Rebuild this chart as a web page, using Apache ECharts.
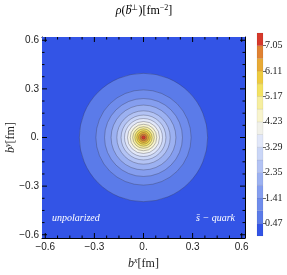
<!DOCTYPE html>
<html><head><meta charset="utf-8">
<script src="https://cdn.jsdelivr.net/npm/echarts@6/dist/echarts.min.js"></script>
<style>html,body{margin:0;padding:0;background:#fff}#c{width:287px;height:275px}</style>
</head><body><div id="c"></div>
<script>
// contour levels (fm^-2) and the radius (fm) at which each contour sits
const contourLevels = [0.47, 0.94, 1.41, 1.88, 2.35, 2.82, 3.29, 3.76, 4.23, 4.70, 5.17, 5.64, 6.11, 6.58, 7.05];
const contourRadii  = [0.392, 0.291, 0.238, 0.198, 0.163, 0.137, 0.116, 0.098, 0.081, 0.066, 0.053, 0.041, 0.030, 0.020, 0.011];
// colour bands: 0–0.47, 0.47–0.94, ... 7.05–7.52
const bandEdges = [0, 0.47, 0.94, 1.41, 1.88, 2.35, 2.82, 3.29, 3.76, 4.23, 4.70, 5.17, 5.64, 6.11, 6.58, 7.05, 7.52];
const bandColors = ['#3354e6', '#5b7be9', '#6f8cec', '#859eef', '#9cb1f1', '#b3c3f4', '#cad6f7', '#e1e7f9',
                    '#f1f1ea', '#f8f4cd', '#f6ee9f', '#f3e262', '#eecb40', '#e8aa36', '#e08233', '#d6392b'];
const colorbarTicks = [0.47, 1.41, 2.35, 3.29, 4.23, 5.17, 6.11, 7.05];
const axisMajor = [-0.6, -0.3, 0, 0.3, 0.6];
const axisMajorLabels = ['\u22120.6', '\u22120.3', '0.', '0.3', '0.6'];
const axisMinor = [-0.525, -0.45, -0.375, -0.225, -0.15, -0.075, 0.075, 0.15, 0.225, 0.375, 0.45, 0.525];

const chart = echarts.init(document.getElementById('c'), null, {renderer: 'canvas'});
const SERIF = 'Liberation Serif';
const SANS = 'Liberation Sans';
const AX = {min: -0.62, max: 0.62};
function lbl(v) { const i = axisMajor.findIndex(a => Math.abs(a - v) < 1e-6); return i >= 0 ? axisMajorLabels[i] : ''; }
const richStyles = {
  i: {fontFamily: SERIF, fontStyle: 'italic', fontWeight: 'normal', fontSize: 12, color: '#222'},
  s: {fontFamily: SERIF, fontStyle: 'italic', fontWeight: 'normal', fontSize: 8, color: '#222', padding: [0, 0, 6, 0]},
  t: {fontFamily: SERIF, fontWeight: 'normal', fontSize: 8, color: '#222', padding: [0, 0, 6, 0]},
  n: {fontFamily: SERIF, fontWeight: 'normal', fontSize: 12, color: '#222'}
};

// measure title pieces so the vector arrow can sit over the "b"
const mctx = document.createElement('canvas').getContext('2d');
function tw(txt, font) { mctx.font = font; return mctx.measureText(txt).width; }
const wRho = tw('\u03c1', 'italic 12px "Liberation Serif"');
const wPar = tw('(', '12px "Liberation Serif"');
const wB = tw('b', 'italic 12px "Liberation Serif"');
const wPerp = tw('\u22a5', '8px "Liberation Serif"');
const wMid = tw(')[fm', '12px "Liberation Serif"');
const wExp = tw('\u22122', '8px "Liberation Serif"');
const wEnd = tw(']', '12px "Liberation Serif"');
const titleW = wRho + wPar + wB + wPerp + wMid + wExp + wEnd;
const titleX0 = 144 - titleW / 2;
const arrowX = titleX0 + wRho + wPar + wB / 2 + 1;

function mkAxis(dim, pos, withLabel, name) {
  const a = {
    type: 'value', gridIndex: 0, min: AX.min, max: AX.max, position: pos,
    axisLine: {show: true, onZero: false, lineStyle: {color: '#000', width: 1}}, splitLine: {show: false},
    axisTick: {show: false},
    axisLabel: withLabel ? {show: true, customValues: axisMajor, formatter: lbl, fontFamily: SANS, fontSize: 10, color: '#222', margin: dim === 'x' ? 4 : 3}
                         : {show: false}
  };
  if (name) {
    a.name = name.text; a.nameLocation = 'middle'; a.nameGap = name.gap; a.nameMoveOverlap = false;
    a.nameTextStyle = {fontFamily: SERIF, fontSize: 12, color: '#222', rich: richStyles};
  }
  return a;
}

// frame tick marks: [value, isMajor]
const tickData = axisMajor.map(v => [v, 1]).concat(axisMinor.map(v => [v, 0]));
function tickSeries(horizontal) {
  return {
    type: 'custom', xAxisIndex: 0, yAxisIndex: 0, z: 6, clip: false, silent: true,
    encode: horizontal ? {x: 0} : {y: 0},
    data: tickData,
    renderItem: function (params, api) {
      const v = api.value(0);
      const len = api.value(1) ? 5 : 2.5;
      const a = horizontal ? api.coord([v, AX.min]) : api.coord([AX.min, v]);
      const b = horizontal ? api.coord([v, AX.max]) : api.coord([AX.max, v]);
      const st = {stroke: '#000', lineWidth: 1};
      if (horizontal) {
        return {type: 'group', children: [
          {type: 'line', shape: {x1: a[0], y1: a[1], x2: a[0], y2: a[1] - len}, style: st},
          {type: 'line', shape: {x1: b[0], y1: b[1], x2: b[0], y2: b[1] + len}, style: st}
        ]};
      }
      return {type: 'group', children: [
        {type: 'line', shape: {x1: a[0], y1: a[1], x2: a[0] + len, y2: a[1]}, style: st},
        {type: 'line', shape: {x1: b[0], y1: b[1], x2: b[0] - len, y2: b[1]}, style: st}
      ]};
    }
  };
}

const option = {
  animation: false,
  grid: [
    {left: 42, top: 37, width: 203, height: 201, show: false, outerBoundsMode: 'none', containLabel: false},
    {left: 257, top: 33, width: 6, height: 203, outerBoundsMode: 'none', containLabel: false}
  ],
  xAxis: [
    mkAxis('x', 'bottom', true, {text: '{i|b}{s|x}{n|[fm]}', gap: 19}),
    mkAxis('x', 'top', false),
    {type: 'value', gridIndex: 1, min: 0, max: 1, show: false}
  ],
  yAxis: [
    mkAxis('y', 'left', true, {text: '{i|b}{s|y}{n|[fm]}', gap: 24}),
    mkAxis('y', 'right', false),
    {type: 'value', gridIndex: 1, min: 0, max: 7.52, position: 'right',
     axisLine: {show: false, onZero: false}, splitLine: {show: false},
     axisTick: {show: true, customValues: colorbarTicks, length: 3, lineStyle: {color: '#444', width: 0.8}},
     axisLabel: {customValues: colorbarTicks, formatter: v => v.toFixed(2), fontFamily: SERIF, fontSize: 10, color: '#222', margin: 2}}
  ],
  series: [
    {
      // lowest band (below the first contour) fills the whole plot window
      type: 'custom', xAxisIndex: 0, yAxisIndex: 0, z: 1,
      encode: {x: [0, 2], y: [1, 3]},
      data: [[AX.min, AX.max, AX.max, AX.min]],
      renderItem: function (params, api) {
        const p1 = api.coord([api.value(0), api.value(1)]);
        const p2 = api.coord([api.value(2), api.value(3)]);
        return {type: 'rect', shape: {x: p1[0], y: p1[1], width: p2[0] - p1[0], height: p2[1] - p1[1]},
          style: {fill: bandColors[0]}};
      }
    },
    {
      type: 'custom', xAxisIndex: 0, yAxisIndex: 0, clip: true, z: 2,
      encode: {x: 0, y: 1},
      data: contourRadii.map((r, i) => [0, 0, r, contourLevels[i]]),
      renderItem: function (params, api) {
        const c = api.coord([api.value(0), api.value(1)]);
        const rx = api.size([api.value(2), 0])[0];
        return {type: 'circle', shape: {cx: c[0], cy: c[1], r: rx},
          style: {fill: bandColors[params.dataIndex + 1], stroke: 'rgba(50,50,70,0.55)', lineWidth: 0.6}};
      }
    },
    tickSeries(true),
    tickSeries(false),
    {
      type: 'custom', xAxisIndex: 2, yAxisIndex: 2,
      encode: {x: 0, y: [1, 2]},
      data: bandColors.map((col, i) => [0, bandEdges[i], bandEdges[i + 1]]),
      renderItem: function (params, api) {
        const p1 = api.coord([0, api.value(2)]);
        const p2 = api.coord([1, api.value(1)]);
        return {type: 'rect', shape: {x: p1[0], y: p1[1], width: p2[0] - p1[0], height: p2[1] - p1[1]},
          style: {fill: bandColors[params.dataIndex], stroke: 'rgba(0,0,0,0.12)', lineWidth: 0.5}};
      }
    }
  ],
  graphic: [
    {type: 'text', left: titleX0, top: 4, style: {
      text: '{i|\u03c1}{n|(}{i|b}{t|\u22a5}{n|)[fm}{t|\u22122}{n|]}', rich: richStyles}},
    {type: 'text', x: arrowX, y: 3, style: {text: '\u2192', fontFamily: 'DejaVu Sans', fontSize: 7, fill: '#222', align: 'center', verticalAlign: 'top'}},
    {type: 'text', left: 52, top: 213, z: 20, style: {text: 'unpolarized', fontFamily: SERIF, fontStyle: 'italic', fontSize: 10, fill: '#fff'}},
    {type: 'text', left: 196, top: 213, z: 20, style: {text: 's\u0304 \u2212 quark', fontFamily: SERIF, fontStyle: 'italic', fontSize: 10, fill: '#fff'}}
  ]
};
chart.setOption(option);
</script>
</body></html>
